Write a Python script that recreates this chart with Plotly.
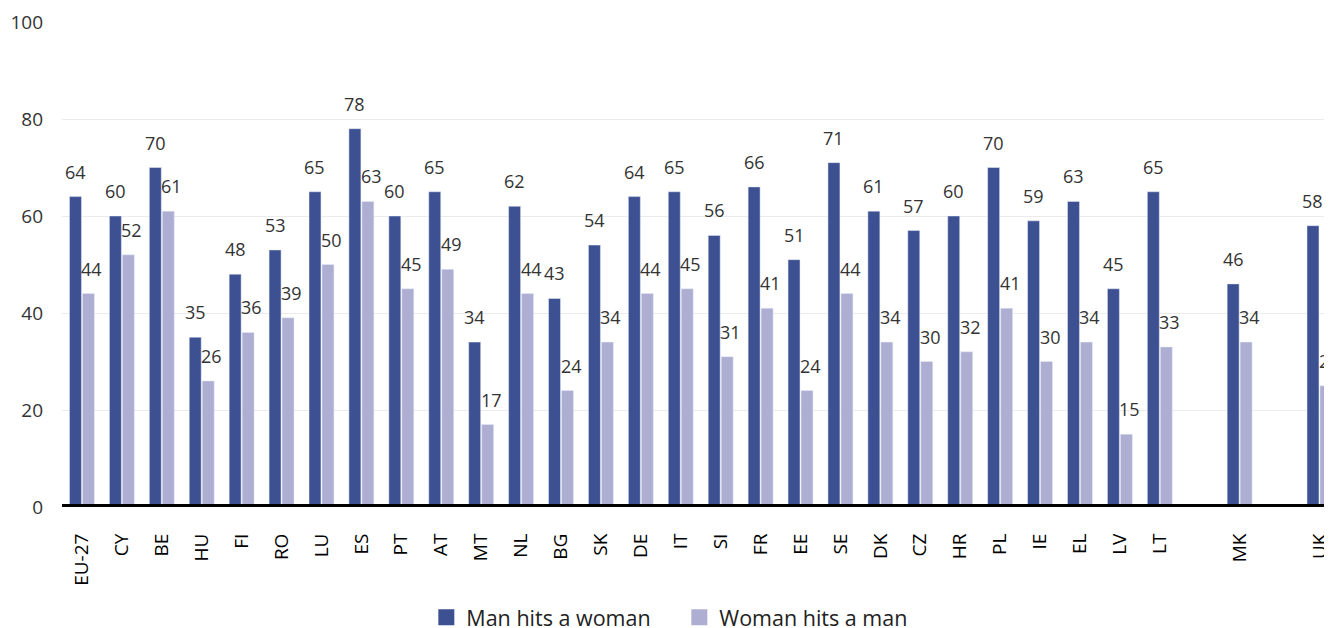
import plotly.graph_objects as go

countries = ["EU-27", "CY", "BE", "HU", "FI", "RO", "LU", "ES", "PT", "AT", "MT", "NL",
             "BG", "SK", "DE", "IT", "SI", "FR", "EE", "SE", "DK", "CZ", "HR", "PL",
             "IE", "EL", "LV", "LT", "MK", "UK"]
man_hits_woman = [64, 60, 70, 35, 48, 53, 65, 78, 60, 65, 34, 62,
                  43, 54, 64, 65, 56, 66, 51, 71, 61, 57, 60, 70,
                  59, 63, 45, 65, 46, 58]
woman_hits_man = [44, 52, 61, 26, 36, 39, 50, 63, 45, 49, 17, 44,
                  24, 34, 44, 45, 31, 41, 24, 44, 34, 30, 32, 41,
                  30, 34, 15, 33, 34, 25]
# an empty slot is left after these categories
spacer_after = ["LT", "MK"]
y_ticks = [0, 20, 40, 60, 80, 100]
series_names = ["Man hits a woman", "Woman hits a man"]

DARK = "#3d5092"
LIGHT = "#aeaed3"
FONT = "Open Sans"

# category positions with blank slots
positions = []
p = 0
for c in countries:
    positions.append(p)
    p += 2 if c in spacer_after else 1

W = 0.30
GAP = 0.0125

fig = go.Figure()
fig.add_trace(go.Bar(x=positions, y=man_hits_woman, name=series_names[0],
                     marker_color=DARK, width=W, offset=-W - GAP, showlegend=False))
fig.add_trace(go.Bar(x=positions, y=woman_hits_man, name=series_names[1],
                     marker_color=LIGHT, width=W, offset=GAP, showlegend=False))
# legend entries with larger square keys
for nm, col in zip(series_names, [DARK, LIGHT]):
    fig.add_trace(go.Scatter(x=[None], y=[None], mode="markers", name=nm,
                             marker=dict(symbol="square", size=16, color=col)))

annotations = []
for xp, a, b in zip(positions, man_hits_woman, woman_hits_man):
    annotations.append(dict(x=xp - GAP - W / 2, y=a, text=str(a), showarrow=False,
                            xanchor="center", yanchor="bottom", yshift=11,
                            font=dict(family=FONT, size=18, color="#333333")))
    annotations.append(dict(x=xp + GAP, y=b, text=str(b), showarrow=False,
                            xanchor="left", yanchor="bottom", yshift=11, xshift=-3,
                            font=dict(family=FONT, size=18, color="#333333")))

fig.update_layout(
    width=1332, height=628,
    margin=dict(l=54, r=0, t=14, b=129),
    paper_bgcolor="white", plot_bgcolor="white",
    barmode="overlay",
    annotations=annotations,
    showlegend=True,
    legend=dict(orientation="h", xref="container", x=0.504, xanchor="center",
                yref="container", y=0.03, yanchor="middle",
                font=dict(family=FONT, size=21.5, color="#222222"),
                itemwidth=30, tracegroupgap=0, entrywidth=208),
    shapes=[dict(type="line", xref="paper", x0=0, x1=1, yref="y", y0=0, y1=0,
                 line=dict(color="black", width=6), layer="above")],
)
fig.update_xaxes(range=[-0.5, -0.5 + 1278 / 39.92], tickmode="array",
                 tickvals=positions, ticktext=countries, tickangle=-90,
                 showgrid=False, zeroline=False, showline=False,
                 ticks="outside", ticklen=0, ticklabelstandoff=18,
                 tickfont=dict(family=FONT, size=19, color="black"))
fig.update_yaxes(range=[0, 100], tickvals=y_ticks, showgrid=True, gridcolor="#ebebeb",
                 gridwidth=1, zeroline=False, showline=False, ticks="",
                 ticklabelstandoff=18,
                 tickfont=dict(family=FONT, size=19, color="#333333"))

fig.write_html("out.html")
